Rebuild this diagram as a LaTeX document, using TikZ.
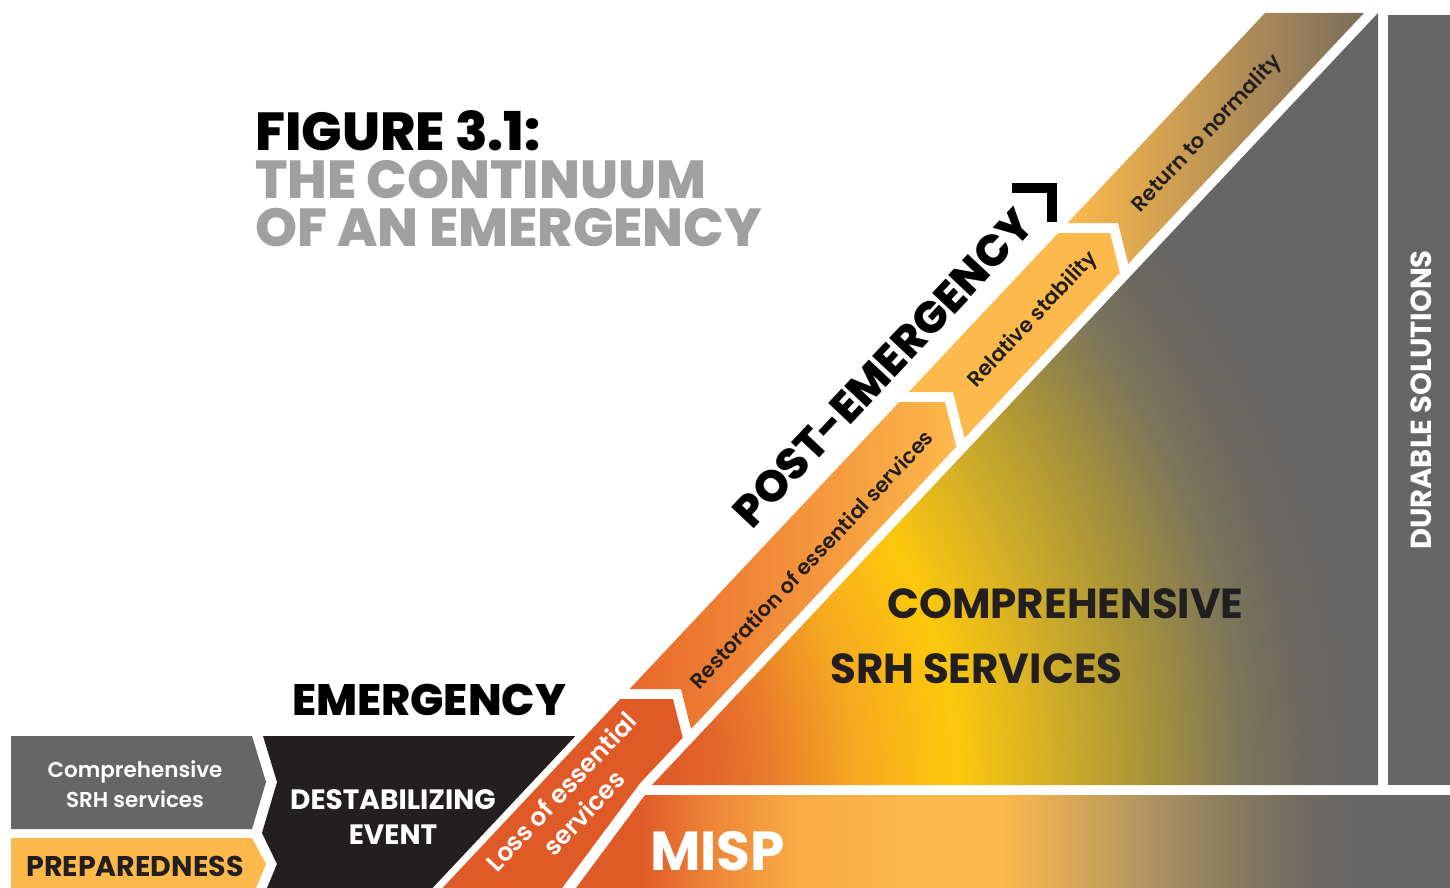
\documentclass[tikz,border=0pt]{standalone}
\usepackage{fontspec}
\usepackage{xcolor}
\setmainfont{Poppins}
\IfFontExistsTF{Poppins ExtraBold}{\newfontfamily\heavyfont{Poppins ExtraBold}}{\newcommand\heavyfont{\bfseries}}
\IfFontExistsTF{Poppins SemiBold}{\newfontfamily\semifont{Poppins SemiBold}}{\newcommand\semifont{\bfseries}}

\definecolor{inkdark}{HTML}{231F20}
\definecolor{slate}{HTML}{666666}
\definecolor{amber}{HTML}{FDB94B}
\definecolor{rust}{HTML}{E05A28}
\definecolor{titlegray}{HTML}{A0A0A0}
% triangle stops
\definecolor{tri1}{HTML}{E3652A}
\definecolor{tri2}{HTML}{EA7E2A}
\definecolor{tri3}{HTML}{F5A820}
\definecolor{tri4}{HTML}{FEC80C}
\definecolor{tri5}{HTML}{D6B025}
\definecolor{tri6}{HTML}{A89438}
\definecolor{tri7}{HTML}{7E765A}
\definecolor{tri8}{HTML}{6A6760}
% misp stops
\definecolor{misp1}{HTML}{EE8A38}
\definecolor{misp2}{HTML}{F8AC45}
\definecolor{misp3}{HTML}{E0AA55}
\definecolor{misp4}{HTML}{B09560}
\definecolor{misp5}{HTML}{8C7D5E}
\definecolor{misp6}{HTML}{6E6A63}
% band stops
\definecolor{restleft}{HTML}{E8682A}
\definecolor{restmid}{HTML}{F29A3C}
\definecolor{retmid}{HTML}{D2A055}
\definecolor{retright}{HTML}{7A6E5E}

\pgfdeclareradialshading{trishade}{\pgfpointorigin}{color(0bp)=(rust); color(3.4bp)=(rust);
  color(4.5bp)=(tri1); color(5.7bp)=(tri2); color(7.3bp)=(tri3); color(9.3bp)=(tri4);
  color(11.1bp)=(tri5); color(13.1bp)=(tri6); color(15bp)=(tri7); color(16.4bp)=(tri8);
  color(17.4bp)=(slate); color(50bp)=(slate)}
\pgfdeclarehorizontalshading{mispshade}{100bp}{color(0bp)=(rust); color(29.49bp)=(rust);
  color(33.99bp)=(misp1); color(38.48bp)=(misp2); color(45.79bp)=(amber); color(49.72bp)=(amber);
  color(53.09bp)=(misp3); color(57.81bp)=(misp4); color(62.42bp)=(misp5); color(66.97bp)=(misp6);
  color(69.94bp)=(slate); color(100bp)=(slate)}

\tikzset{
  titletext/.style={font=\heavyfont\fontsize{53.5}{53.5}\selectfont, anchor=base west, inner sep=0pt},
  headtext/.style={font=\heavyfont\fontsize{44}{44}\selectfont, text=black, inner sep=0pt},
  bandtext/.style={font=\semifont\fontsize{21}{21}\selectfont, text=inkdark, rotate=46.8, inner sep=0pt},
  bigtext/.style={font=\bfseries\fontsize{42}{42}\selectfont, text=inkdark, anchor=base west, inner sep=0pt},
}

\begin{document}
\begin{tikzpicture}[x=1pt,y=-1pt]
  \useasboundingbox (0,0) rectangle (1450,888);
  \fill[white] (0,0) rectangle (1450,888);

  % before the event
  \fill[slate] (11,736) -- (252,736) -- (266,782) -- (252,829) -- (11,829) -- cycle;
  \fill[amber] (11,838) -- (252,838) -- (266,864) -- (256,888) -- (11,888) -- cycle;
  \fill[inkdark] (263,736) -- (575.4,736) -- (432.5,888) -- (267,888) -- (277,864)
    -- (262,833) -- (277,782) -- cycle;

  % bands along the diagonal
  \fill[rust] (620.2,699) -- (673,699) -- (682.7,737.8) -- (640.2,783) -- (562,888)
    -- (442.5,888) -- cycle;
  \begin{scope}
    \clip (629.6,689) -- (681,689) -- (691,729) -- (956.2,446.8) -- (945,402)
      -- (899.3,402) -- cycle;
    \shade[left color=restleft, middle color=restmid, right color=amber]
      (629,400) rectangle (958,730);
  \end{scope}
  \fill[amber] (908.7,392) -- (953,392) -- (964.5,438) -- (1119.9,272.7) -- (1110,233)
    -- (1058.2,233) -- cycle;
  \begin{scope}
    \clip (1067.6,223) -- (1118,223) -- (1128.2,263.8) -- (1364,13) -- (1265,13) -- cycle;
    \shade[left color=amber, middle color=retmid, right color=retright]
      (1067,13) rectangle (1364,264);
  \end{scope}

  % services triangle and MISP bar
  \begin{scope}
    \clip (652,785) -- (1378,785) -- (1378,13) -- cycle;
    \shade[shading=trishade] (-760,-470) rectangle (1740,2030);
  \end{scope}
  \begin{scope}
    \clip (645,795) -- (1450,795) -- (1450,888) -- (576,888) -- cycle;
    \shade[shading=mispshade] (560,795) rectangle (1450,888);
  \end{scope}
  \fill[slate] (1388,15) rectangle (1450,785);

  % title
  \node[titletext, text=black] (figno) at (255,150) {FIGURE 3.1:};
  \node[titletext, text=titlegray] (titlea) at (255,198) {THE CONTINUUM};
  \node[titletext, text=titlegray] (titleb) at (255,246) {OF AN EMERGENCY};

  % phase headings
  \node[headtext, anchor=base west] (emerg) at (292,715) {EMERGENCY};
  \node[headtext, rotate=46.8] (postemerg) at (883,368) {POST-EMERGENCY};
  \draw[line width=10pt] (1012,188) -- (1052,188) -- (1052,222);

  % labels
  \node[text=white, font=\semifont\fontsize{21.5}{30}\selectfont, align=center, inner sep=0pt]
    (compsrh) at (135,784) {Comprehensive\\SRH services};
  \node[text=inkdark, font=\bfseries\fontsize{28.5}{28.5}\selectfont, anchor=base, inner sep=0pt]
    (prep) at (135,876) {PREPAREDNESS};
  \node[text=white, font=\bfseries\fontsize{28}{35}\selectfont, align=center, inner sep=0pt]
    (destab) at (393,817) {DESTABILIZING\\EVENT};
  \node[text=white, font=\semifont\fontsize{25}{31}\selectfont, align=center, rotate=46.8, inner sep=0pt]
    (loss) at (572,802) {Loss of essential\\services};
  \node[bandtext] (restore) at (811,559) {Restoration of essential services};
  \node[bandtext] (stable) at (1033,320) {Relative stability};
  \node[bandtext] (normal) at (1207,134) {Return to normality};
  \node[bigtext] (comp) at (887,618) {COMPREHENSIVE};
  \node[bigtext] (srh) at (830,683) {SRH SERVICES};
  \node[text=white, font=\bfseries\fontsize{55}{55}\selectfont, anchor=base west, inner sep=0pt]
    (misp) at (650,870) {MISP};
  \node[text=white, font=\bfseries\fontsize{29}{29}\selectfont, rotate=90, inner sep=0pt]
    (durable) at (1421,400) {DURABLE SOLUTIONS};
\end{tikzpicture}
\end{document}
